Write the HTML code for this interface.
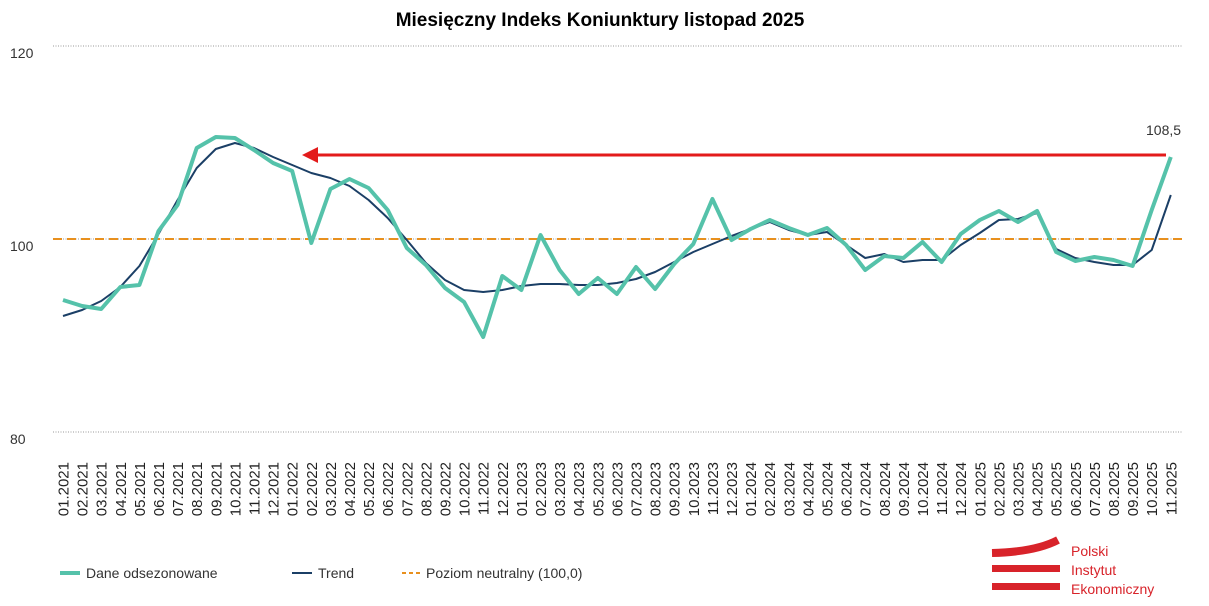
<!DOCTYPE html>
<html><head><meta charset="utf-8"><style>
body{margin:0;background:#fff;}
svg{display:block;font-family:"Liberation Sans",sans-serif;}
</style></head><body>
<svg width="1209" height="606" viewBox="0 0 1209 606" xmlns="http://www.w3.org/2000/svg">
<text x="600" y="26" text-anchor="middle" font-size="19" font-weight="bold" fill="#000">Miesięczny Indeks Koniunktury listopad 2025</text>
<g stroke="#999" stroke-width="1" stroke-dasharray="1,1.5">
<line x1="53" y1="46" x2="1182" y2="46"/>
<line x1="53" y1="432" x2="1182" y2="432"/>
<line x1="53" y1="239" x2="1182" y2="239"/>
</g>
<line x1="53" y1="239" x2="1182" y2="239" stroke="#e8901e" stroke-width="2" stroke-dasharray="9,5"/>
<g font-size="14" fill="#333">
<text x="10" y="58">120</text>
<text x="10" y="251">100</text>
<text x="10" y="444">80</text>
</g>
<g id="lbl" font-size="15" fill="#222"></g>
<line x1="318" y1="155" x2="1166" y2="155" stroke="#e31b1b" stroke-width="3"/>
<polygon points="302,155 318,147 318,163" fill="#e31b1b"/>
<polyline id="tr" fill="none" stroke="#1b3f66" stroke-width="2" stroke-linejoin="round"/>
<polyline id="gr" fill="none" stroke="#55c2aa" stroke-width="4" stroke-linejoin="round"/>
<text x="1146" y="135" font-size="14" fill="#333">108,5</text>
<line x1="60" y1="573" x2="80" y2="573" stroke="#55c2aa" stroke-width="4"/>
<text x="86" y="578" font-size="14" fill="#333">Dane odsezonowane</text>
<line x1="292" y1="573" x2="312" y2="573" stroke="#1b3f66" stroke-width="2"/>
<text x="318" y="578" font-size="14" fill="#333">Trend</text>
<line x1="402" y1="573" x2="422" y2="573" stroke="#e8901e" stroke-width="2" stroke-dasharray="4,3"/>
<text x="426" y="578" font-size="14" fill="#333">Poziom neutralny (100,0)</text>
<path d="M992,553 Q1035,552 1058,540" stroke="#d8232a" stroke-width="8" fill="none"/>
<rect x="992" y="565" width="68" height="7" fill="#d8232a"/>
<rect x="992" y="583" width="68" height="7" fill="#d8232a"/>
<g font-size="14" fill="#d8232a"><text x="1071" y="556">Polski</text><text x="1071" y="575">Instytut</text><text x="1071" y="594">Ekonomiczny</text></g>
</svg>
<script>
var g=[300,306,309,287,285,231,205,148,137,138,150,163,171,243,189,179,188,210,248,265,288,302,337,276,290,235,270,294,278,294,267,289,264,244,199,240,229,220,228,235,228,245,270,256,258,242,262,234,220,211,222,211,252,261,257,260,266,210,157];
var t=[316,310,301,287,266,234,200,168,149,143,148,157,165,173,178,186,200,218,240,263,280,290,292,290,286,284,284,285,285,283,279,272,262,252,244,236,229,222,230,235,232,245,258,254,262,260,260,245,233,220,219,213,249,258,262,265,265,250,195];
function P(a){return a.map(function(y,i){return (63+19.1*i).toFixed(1)+","+y}).join(" ");}
document.getElementById("gr").setAttribute("points",P(g));
document.getElementById("tr").setAttribute("points",P(t));
var L=document.getElementById("lbl"),s="";
for(var i=0;i<59;i++){var m=i%12+1,y=2021+Math.floor(i/12);var x=63+19.1*i+5.5;
s+='<text transform="translate('+x.toFixed(1)+',462) rotate(-90)" text-anchor="end">'+(m<10?"0":"")+m+"."+y+'</text>';}
L.innerHTML=s;
</script>
</body></html>
